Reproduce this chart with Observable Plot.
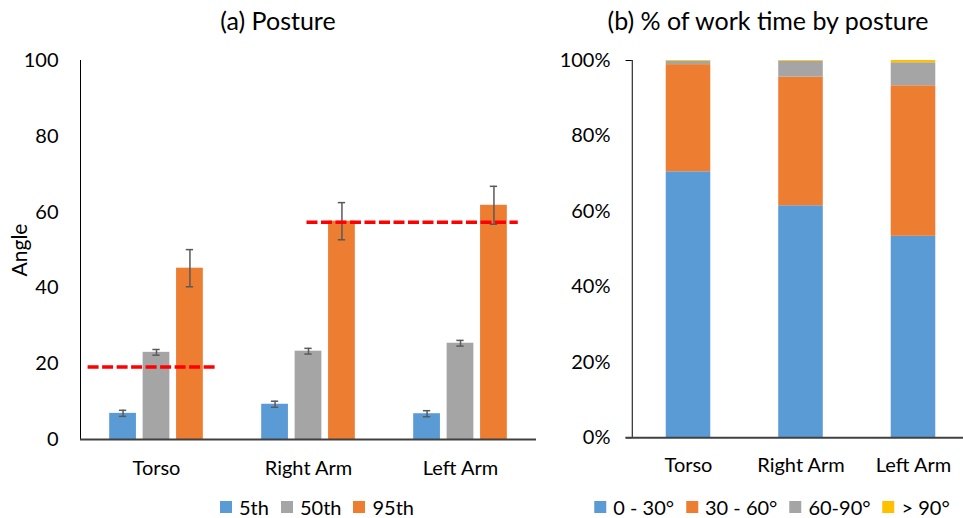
<!DOCTYPE html>
<html><head><meta charset="utf-8">
<script src="https://cdn.jsdelivr.net/npm/d3@7"></script>
<script src="https://cdn.jsdelivr.net/npm/@observablehq/plot@0.6"></script>
<style>
html,body{margin:0;padding:0;background:#fff;overflow:hidden}
#root{position:relative;width:963px;height:518px;font-family:Lato,"Open Sans",sans-serif;color:#000}
.title{position:absolute;top:5px;font-size:25px;line-height:30px;white-space:nowrap;transform:translateX(-50%)}
.panel{position:absolute;top:40px}
.legend{position:absolute;top:495px;height:24px;display:flex;align-items:center;transform:translateX(-50%);font-size:20px;white-space:nowrap}
.sw{display:inline-block;width:12px;height:12px;margin-right:7px}
.item{display:flex;align-items:center;margin-right:12px}
.item:last-child{margin-right:0}
</style></head>
<body><div id="root"></div>
<script>
// ---- data ----
const categories = ["Torso", "Right Arm", "Left Arm"];
const percentiles = ["5th", "50th", "95th"];
const angle5th = [6.9, 9.3, 6.8];
const angle50th = [23.0, 23.3, 25.4];
const angle95th = [45.2, 57.6, 61.8];
const err5th = [0.8, 0.8, 0.8];
const err50th = [0.75, 0.75, 0.75];
const err95th = [4.9, 4.9, 5.0];
const thresholdValues = [19.1, 57.3];
const thresholdFrom = [-0.45, 0.99];
const thresholdTo = [0.405, 2.38];
const postureBands = ["0 - 30°", "30 - 60°", "60-90°", "> 90°"];
const share0to30 = [70.5, 61.5, 53.4];
const share30to60 = [28.4, 34.1, 39.9];
const share60to90 = [0.9, 4.2, 6.1];
const shareOver90 = [0.2, 0.2, 0.6];
const angleTicks = [0, 20, 40, 60, 80, 100];
const shareTicks = [0, 20, 40, 60, 80, 100];
const percentileColors = ["#5B9BD5", "#A5A5A5", "#ED7D31"];
const bandColors = ["#5B9BD5", "#ED7D31", "#A5A5A5", "#FFC000"];

// ---- layout constants ----
const FONT = "Lato, 'Open Sans', sans-serif";
const groupPitch = 0.22, barHalf = 0.088, capHalf = 0.024;
const stackHalf = 0.198;

// ---- build tables ----
const angleSeries = [angle5th, angle50th, angle95th];
const errSeries = [err5th, err50th, err95th];
const rows = [];
categories.forEach((c, i) => percentiles.forEach((p, j) => {
  rows.push({cat: c, series: p, value: angleSeries[j][i], err: errSeries[j][i], pos: i + (j - 1) * groupPitch});
}));
const caps = rows.flatMap(d => [{pos: d.pos, y: d.value - d.err}, {pos: d.pos, y: d.value + d.err}]);
const thresholds = thresholdValues.map((v, k) => ({value: v, from: thresholdFrom[k], to: thresholdTo[k]}));

const shareSeries = [share0to30, share30to60, share60to90, shareOver90];
const stackRows = [];
categories.forEach((c, i) => {
  let acc = 0;
  postureBands.forEach((b, j) => {
    const v = shareSeries[j][i];
    stackRows.push({cat: c, band: b, i, y1: acc, y2: acc + v});
    acc += v;
  });
});

const root = document.getElementById("root");
function addDiv(cls, html, styleObj) {
  const d = document.createElement("div");
  d.className = cls; d.innerHTML = html;
  Object.assign(d.style, styleObj || {});
  root.appendChild(d); return d;
}
addDiv("title", "(a) Posture", {left: "278px"});
addDiv("title", "(b) % of work time by posture", {left: "768px"});

const style = {fontFamily: FONT, fontSize: "20px", color: "#000", background: "transparent", overflow: "visible"};

const left = Plot.plot({
  width: 560, height: 445, marginTop: 20, marginBottom: 46, marginLeft: 80, marginRight: 24,
  x: {domain: [-0.5, 2.5], range: [80, 536]},
  y: {domain: [0, 100], range: [399, 20]},
  color: {domain: percentiles, range: percentileColors},
  style,
  marks: [
    Plot.rect(rows, {x1: d => d.pos - barHalf, x2: d => d.pos + barHalf, y1: 0, y2: "value", fill: "series"}),
    Plot.ruleX(rows, {x: "pos", y1: d => d.value - d.err, y2: d => d.value + d.err, stroke: "#595959", strokeWidth: 1.5}),
    Plot.ruleY(caps, {y: "y", x1: d => d.pos - capHalf, x2: d => d.pos + capHalf, stroke: "#595959", strokeWidth: 1.5}),
    Plot.ruleY(thresholds, {y: "value", x1: "from", x2: "to", stroke: "#FF0000", strokeWidth: 3.5, strokeDasharray: "11,3.5"}),
    Plot.ruleX([-0.5], {y1: 0, y2: 100, stroke: "#000", strokeWidth: 1}),
    Plot.ruleY([0], {x1: -0.5, x2: 2.5, stroke: "#404040", strokeWidth: 2}),
    Plot.axisY({ticks: angleTicks, tickSize: 0, tickPadding: 22, label: null}),
    Plot.axisX({ticks: [0, 1, 2], tickFormat: i => categories[i], tickSize: 0, tickPadding: 21, label: null}),
    Plot.text(["Angle"], {frameAnchor: "left", textAnchor: "middle", rotate: -90, dx: -60, fontSize: 21})
  ]
});
const lp = addDiv("panel", "", {left: "0px"});
lp.appendChild(left);

const right = Plot.plot({
  width: 403, height: 445, marginTop: 20, marginBottom: 48, marginLeft: 72, marginRight: 0,
  x: {domain: [-0.5, 2.5], range: [71.75, 409.25]},
  y: {domain: [0, 100], range: [397.3, 20]},
  color: {domain: postureBands, range: bandColors},
  style,
  marks: [
    Plot.rect(stackRows, {x1: d => d.i - stackHalf, x2: d => d.i + stackHalf, y1: "y1", y2: "y2", fill: "band"}),
    Plot.ruleX([-0.5], {y1: 0, y2: 100, stroke: "#000", strokeWidth: 1}),
    Plot.ruleY([0, 100], {x1: -0.555, x2: -0.5, stroke: "#000", strokeWidth: 1}),
    Plot.ruleY([0], {x1: -0.555, x2: 2.5, stroke: "#404040", strokeWidth: 2}),
    Plot.axisY({ticks: shareTicks, tickFormat: d => d + "%", tickSize: 0, tickPadding: 22, label: null}),
    Plot.axisX({ticks: [0, 1, 2], tickFormat: i => categories[i], tickSize: 0, tickPadding: 20, label: null})
  ]
});
const rp = addDiv("panel", "", {left: "560px"});
rp.appendChild(right);

function legend(names, colors, cx) {
  const html = names.map((n, k) => `<span class="item"><span class="sw" style="background:${colors[k]}"></span>${n}</span>`).join("");
  addDiv("legend", html, {left: cx + "px"});
}
legend(percentiles, percentileColors, 317);
legend(postureBands, bandColors, 772);
</script>
</body></html>
